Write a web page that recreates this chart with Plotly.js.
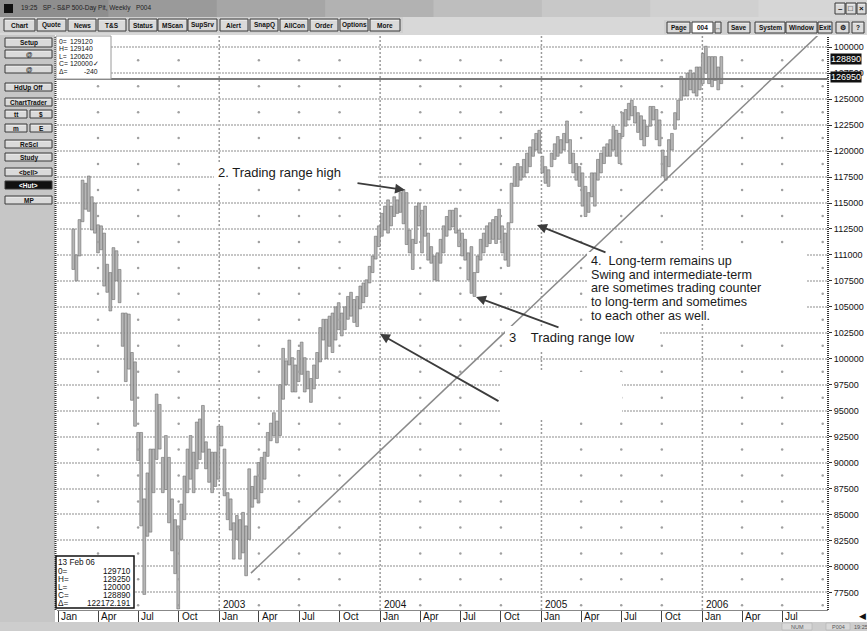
<!DOCTYPE html>
<html><head><meta charset="utf-8">
<script src="https://cdn.plot.ly/plotly-3.0.1.min.js"></script>
<style>html,body{margin:0;padding:0;background:#fff;overflow:hidden}#chart{width:867px;height:631px}</style>
</head><body><div id="chart"></div>
<script>
// ---------------- DATA ----------------
const weekDates = [
'2002-02-04','2002-02-11','2002-02-18','2002-02-25','2002-03-04','2002-03-11','2002-03-18','2002-03-25','2002-04-01','2002-04-08','2002-04-15','2002-04-22','2002-04-29','2002-05-06','2002-05-13','2002-05-20','2002-05-27','2002-06-03','2002-06-10','2002-06-17','2002-06-24','2002-07-01','2002-07-08','2002-07-15','2002-07-22','2002-07-29','2002-08-05','2002-08-12','2002-08-19','2002-08-26','2002-09-02','2002-09-09','2002-09-16','2002-09-23','2002-09-30','2002-10-07','2002-10-14','2002-10-21','2002-10-28','2002-11-04','2002-11-11','2002-11-18','2002-11-25','2002-12-02','2002-12-09','2002-12-16','2002-12-23','2002-12-30',
'2003-01-06','2003-01-13','2003-01-20','2003-01-27','2003-02-03','2003-02-10','2003-02-17','2003-02-24','2003-03-03','2003-03-10','2003-03-17','2003-03-24','2003-03-31','2003-04-07','2003-04-14','2003-04-21','2003-04-28','2003-05-05','2003-05-12','2003-05-19','2003-05-26','2003-06-02','2003-06-09','2003-06-16','2003-06-23','2003-06-30','2003-07-07','2003-07-14','2003-07-21','2003-07-28','2003-08-04','2003-08-11','2003-08-18','2003-08-25','2003-09-01','2003-09-08','2003-09-15','2003-09-22','2003-09-29','2003-10-06','2003-10-13','2003-10-20','2003-10-27','2003-11-03','2003-11-10','2003-11-17','2003-11-24','2003-12-01','2003-12-08','2003-12-15','2003-12-22','2003-12-29',
'2004-01-05','2004-01-12','2004-01-19','2004-01-26','2004-02-02','2004-02-09','2004-02-16','2004-02-23','2004-03-01','2004-03-08','2004-03-15','2004-03-22','2004-03-29','2004-04-05','2004-04-12','2004-04-19','2004-04-26','2004-05-03','2004-05-10','2004-05-17','2004-05-24','2004-05-31','2004-06-07','2004-06-14','2004-06-21','2004-06-28','2004-07-05','2004-07-12','2004-07-19','2004-07-26','2004-08-02','2004-08-09','2004-08-16','2004-08-23','2004-08-30','2004-09-06','2004-09-13','2004-09-20','2004-09-27','2004-10-04','2004-10-11','2004-10-18','2004-10-25','2004-11-01','2004-11-08','2004-11-15','2004-11-22','2004-11-29','2004-12-06','2004-12-13','2004-12-20','2004-12-27',
'2005-01-03','2005-01-10','2005-01-17','2005-01-24','2005-01-31','2005-02-07','2005-02-14','2005-02-21','2005-02-28','2005-03-07','2005-03-14','2005-03-21','2005-03-28','2005-04-04','2005-04-11','2005-04-18','2005-04-25','2005-05-02','2005-05-09','2005-05-16','2005-05-23','2005-05-30','2005-06-06','2005-06-13','2005-06-20','2005-06-27','2005-07-04','2005-07-11','2005-07-18','2005-07-25','2005-08-01','2005-08-08','2005-08-15','2005-08-22','2005-08-29','2005-09-05','2005-09-12','2005-09-19','2005-09-26','2005-10-03','2005-10-10','2005-10-17','2005-10-24','2005-10-31','2005-11-07','2005-11-14','2005-11-21','2005-11-28','2005-12-05','2005-12-12','2005-12-19','2005-12-26',
'2006-01-02','2006-01-09','2006-01-16','2006-01-23','2006-01-30','2006-02-06','2006-02-13'];

const weekHigh = [
112500,110000,113400,117200,116900,117600,115600,115000,112900,112800,112100,109100,108300,110700,110400,108600,104400,104400,104300,100600,99700,92900,92900,86500,89000,91300,91300,96600,95600,90500,92600,90500,86500,84500,83900,86000,88700,91300,92600,91000,93900,94200,95500,92000,91300,91000,91000,93500,
93500,91300,87100,86500,84200,84900,84500,85200,83900,89400,87700,88700,90000,90500,91000,92900,93800,94800,94000,97500,101000,99800,101800,100100,99400,100800,101600,100100,98800,98100,99400,100600,103000,103800,103800,104100,104400,105000,105400,104400,105000,106000,106400,105700,106000,107000,107300,107600,108900,109900,111800,112800,
114000,114700,115300,114700,115600,115300,116000,116300,116000,112400,111500,114700,115000,114300,114700,112100,110800,109900,110200,111500,112800,113700,114300,114300,114500,112400,112100,111500,110200,110800,108300,109900,111500,112100,112800,113100,113400,113700,114400,112800,112100,113100,116900,118500,118800,118500,119200,119800,120400,121100,121700,122000,
119500,118500,118200,119800,120700,121400,121100,121700,122900,121100,119800,118800,118500,117900,116600,116000,117900,117900,119200,119800,120400,120700,121100,122400,122000,121700,123700,124000,124600,124900,124300,123700,123400,123000,122400,124300,124300,124000,123000,120100,119500,121100,121700,123700,124900,127200,127000,127500,127800,127500,128100,128100,
129400,130100,129100,129100,129100,128100,129100];

const weekLow = [
108600,107500,109900,113200,114400,114200,112400,112100,110200,110500,107000,106400,104600,105700,107500,105400,101200,97800,99000,96000,93500,90200,83900,77300,82900,83300,87100,90300,91300,87100,87400,84200,81500,79300,75900,82600,84500,87100,88400,87100,89400,90300,91000,89400,88100,87100,87700,88400,
91600,86800,84500,83500,80700,82600,80700,81300,79100,82600,85700,86500,86100,87100,88400,90600,92100,92600,91900,92600,96100,97500,99400,96800,96800,97800,98500,96800,97100,95800,97100,98100,99700,101800,100000,101200,100600,101800,102800,102200,102800,103800,104100,103500,103100,104800,105400,106000,107300,108300,109600,110800,
111800,112400,112100,112800,113700,114000,114100,113000,111000,110200,108600,111100,112800,110200,111800,109500,109200,107600,107500,109200,110200,111800,112400,112700,112100,110800,109900,109500,107600,106300,106000,108300,109500,110200,110800,111100,111500,111100,111500,110200,109500,108900,113100,116600,116600,117200,117500,117900,118500,119500,120100,119800,
117900,116900,116600,118500,119200,119500,119800,120100,120800,118800,117900,117200,116600,114700,113700,114100,115600,114700,117200,117900,118800,119500,119500,120100,119500,118800,121400,122400,123000,123400,122700,121800,121100,120500,121400,122400,123000,121100,120500,117600,117200,118500,120100,122100,123000,124900,125300,125300,125900,125600,125300,125900,
126500,127500,126500,126200,126800,125900,126500];

const yTickVals = [130000,127500,125000,122500,120000,117500,115000,112500,110000,107500,105000,102500,100000,97500,95000,92500,90000,87500,85000,82500,80000,77500];
const yTickText = ['100000','127500','125000','122500','120000','117500','115000','112500','111000','107500','105000','102500','100000','97500','95000','92500','90000','87500','85000','82500','80000','77500'];

const quarterDates = ['2002-01-01','2002-04-01','2002-07-01','2002-10-01','2003-01-01','2003-04-01','2003-07-01','2003-10-01','2004-01-01','2004-04-01','2004-07-01','2004-10-01','2005-01-01','2005-04-01','2005-07-01','2005-10-01','2006-01-01','2006-04-01','2006-07-01'];
const monthLabels = ['Jan','Apr','Jul','Oct','Jan','Apr','Jul','Oct','Jan','Apr','Jul','Oct','Jan','Apr','Jul','Oct','Jan','Apr','Jul'];
const yearDates = ['2003-01-01','2004-01-01','2005-01-01','2006-01-01'];
const yearLabels = ['2003','2004','2005','2006'];
const dotDates = ['2002-04-01','2002-07-01','2002-10-01','2003-04-01','2003-07-01','2003-10-01','2004-04-01','2004-07-01','2004-10-01','2005-04-01','2005-07-01','2005-10-01','2006-04-01','2006-07-01','2006-10-01'];
const dotLevels = [128750,126250,123750,121250,118750,116250,113750,111250,108750,106250,103750,101250,98750,96250,93750,91250,88750,86250,83750,81250,78750,76250];

const trendDates = ['2003-03-14','2006-10-31'];
const trendValues = [79350,132800];
const refLevel = 126950;
const markLabels = ['128890','126950'];

const topBoxLabels = ['0=','H=','L=','C=','\u0394='];
const topBoxValues = ['129120','129140','120620','120000\u2713','-240'];
const botBoxTitle = '13 Feb 06';
const botBoxLabels = ['0=','H=','L=','C=','\u0394='];
const botBoxValues = ['129710','129250','120000','128890','122172.191'];

const toolbarLeft = [[4,35,'Chart'],[37,66,'Quote'],[68,96,'News'],[98,126,'T&S'],[129,157,'Status'],[158,187,'MScan'],[188,217,'SupSrv'],[220,248,'Alert'],[250,278,'SnapQ'],[280,308,'AllCon'],[310,338,'Order'],[340,368,'Options'],[370,400,'More']];
const toolbarRight = [[667,690,'Page'],[728,750,'Save'],[755,785,'System'],[786,817,'Window'],[818,832,'Exit'],[836,849,'\u2699'],[852,864,'?']];
const sideButtons = [[38,47,'Setup'],[50,58,'@'],[65,73,'@'],[83,91,'HdUp Off'],[98,106,'ChartTrader'],[140,148,'ReScl'],[153,161,'Study'],[168,176,'<bell>'],[181,189,'<Hut>'],[196,204,'MP']];

// ---------------- HELPERS ----------------
const L=57, R=828, T=36, B=610, W=R-L, H=B-T;
const px = x => (x-L)/W;
const py = y => (B-y)/H;
const shapes=[], ann=[];
const UIF = 'Liberation Sans, Arial, sans-serif';
function rect(x0,y0,x1,y1,fill,line,lw,layer){
  shapes.push({type:'rect',xref:'paper',yref:'paper',x0:px(x0),x1:px(x1),y0:py(y1),y1:py(y0),
    fillcolor:fill,line:{color:line||fill,width:lw===undefined?0:lw},layer:layer||'above'});
}
function txt(x,y,s,o){
  o=o||{};
  ann.push({xref:'paper',yref:'paper',x:px(x),y:py(y),text:s,showarrow:false,
    xanchor:o.xa||'left',yanchor:'middle',borderpad:0,
    bgcolor:o.bg||'rgba(0,0,0,0)',
    font:{family:o.ff||UIF,size:o.fs||9,color:o.c||'#111',weight:o.w||'normal'}});
}
function btn(x0,y0,x1,y1,label,dark){
  rect(x0,y0,x1,y1,dark?'#111':'#dadada','#3a3a3a',1);
  rect(x0+1,y0+1,x1-1,y0+1.6,dark?'#111':'#f4f4f4');
  if(label) txt((x0+x1)/2,(y0+y1)/2+0.5,label,{xa:'center',fs:6.5,w:'bold',c:dark?'#fff':'#111'});
}
function arrow(hx,hy,tx,ty){
  ann.push({xref:'paper',yref:'paper',x:px(hx),y:py(hy),ax:tx-hx,ay:ty-hy,text:'',showarrow:true,
    arrowhead:2,arrowsize:1.1,arrowwidth:1.8,arrowcolor:'#3c3c3c'});
}

// ---- window chrome ----
const grad=['#8e8e8e','#9a9a9a','#a6a6a6','#b2b2b2','#bebebe','#c8c8c8','#d0d0d0','#d6d6d6'];
for(let k=0;k<grad.length;k++) rect(k*867/grad.length,0,(k+1)*867/grad.length+1,17,grad[k]);
rect(4,4,13,13,'#111');
txt(20,8.5,'19:25   SP - S&P 500-Day Pit, Weekly   P004',{fs:6.5,c:'#222'});
[[835,845,'\u2013'],[846,856,'\u25a1'],[857,866,'\u00d7']].forEach(b=>{btn(b[0],3,b[1],14,'');txt((b[0]+b[1])/2,8.5,b[2],{xa:'center',fs:8,w:'bold'});});
rect(0,17,867,35,'#d8d8d8');
rect(0,17,403,33,'#cfcfcf');
toolbarLeft.forEach(b=>btn(b[0],19,b[1],31,b[2]));
rect(664,20,866,34,'#cfcfcf');
toolbarRight.forEach(b=>btn(b[0],22,b[1],33,b[2]));
rect(692,22,713,33,'#ffffff','#3a3a3a',1); txt(702.5,28,'004',{xa:'center',fs:6.5,w:'bold'});
btn(715,22,721,33,''); txt(718,28,'\u2194',{xa:'center',fs:6});
// left panel
rect(0,35,55,622,'#c6c6c6');
sideButtons.forEach(b=>btn(5,b[0],52,b[1],b[2],b[2]==='<Hut>'));
btn(5,110,27,118,'tt'); btn(30,110,52,118,'$');
btn(5,124,27,132,'m'); btn(30,124,52,132,'E');
// status bar
rect(0,622,867,631,'#cdcdcd');
rect(782,623,812,630,'#d9d9d9','#aaa',0.5); txt(797,626.5,'NUM',{xa:'center',fs:5.5,c:'#555'});
rect(826,623,850,630,'#d9d9d9','#aaa',0.5); txt(838,626.5,'P004',{xa:'center',fs:5.5,c:'#555'});
txt(853,626.5,'19:25',{fs:5.5,c:'#555'});
txt(862,616,'\u25c0',{xa:'center',fs:9,c:'#111'});
// left ruler + right axis ruler
shapes.push({type:'line',xref:'paper',yref:'paper',x0:px(55.5),x1:px(55.5),y0:0,y1:1,line:{color:'#333',width:2,dash:'1px,1px'},layer:'above'});
shapes.push({type:'line',xref:'paper',yref:'paper',x0:1,x1:1,y0:0,y1:1,line:{color:'#333',width:2,dash:'1px,1px'},layer:'above'});
// year dotted lines
yearDates.forEach(d=>shapes.push({type:'line',xref:'x',yref:'paper',x0:d,x1:d,y0:0,y1:1,line:{color:'#9a9a9a',width:1.5,dash:'2px,2px'},layer:'below'}));
// reference horizontal line
shapes.push({type:'line',xref:'paper',yref:'y',x0:0,x1:1,y0:refLevel,y1:refLevel,line:{color:'#7a7a7a',width:2},layer:'above'});
// white label backgrounds
rect(214,162,377,182,'#ffffff');
rect(505,326,660,350,'#ffffff');
rect(587,252,806,322,'#ffffff');
rect(500,372,622,420,'#ffffff');
// info boxes
rect(56,36,111,79,'#ffffff','#9a9a9a',1);
topBoxLabels.forEach((s,k)=>{txt(57.5,41.5+k*7.4,s,{fs:6.8});});
topBoxValues.forEach((s,k)=>{txt(k===4?99:68.5,41.5+k*7.4,s,{fs:6.8,xa:k===4?'right':'left'});});
rect(56,556,134,608,'#ffffff','#111',1.5);
txt(57,562.5,botBoxTitle,{fs:8.2});
botBoxLabels.forEach((s,k)=>txt(57,571+k*8.2,s,{fs:8.2}));
botBoxValues.forEach((s,k)=>txt(132,571+k*8.2,s,{fs:8.2,xa:'right'}));
// highlighted axis boxes
txt(830,59,markLabels[0],{fs:9,c:'#fff',bg:'#111'});
txt(830,77,markLabels[1],{fs:9,c:'#fff',bg:'#111'});
// commentary text
const CF='Liberation Sans, Arial, sans-serif';
txt(217,172,'2. Trading range high',{fs:13,ff:CF,c:'#1a1a1a'});
txt(508,337,'3\u00a0\u00a0\u00a0\u00a0Trading range low',{fs:13,ff:CF,c:'#1a1a1a'});
['4.\u00a0\u00a0Long-term remains up','Swing and intermediate-term','are sometimes trading counter','to long-term and sometimes','to each other as well.'].forEach((s,k)=>txt(590,261+k*13.7,s,{fs:12.6,ff:CF,c:'#1a1a1a'}));
arrow(405,190,356,183);
arrow(476,297,560,328);
arrow(537,225,607,253);
arrow(380,334,500,402);
// month & year labels
quarterDates.forEach((d,k)=>ann.push({xref:'x',yref:'paper',x:d,y:py(616),text:monthLabels[k],showarrow:false,xanchor:'left',yanchor:'middle',xshift:1,font:{family:UIF,size:10,color:'#111'}}));
yearDates.forEach((d,k)=>ann.push({xref:'x',yref:'paper',x:d,y:py(604),text:yearLabels[k],showarrow:false,xanchor:'left',yanchor:'middle',xshift:2,font:{family:UIF,size:10,color:'#111'}}));

// ---------------- TRACES ----------------
const dotX=[],dotY=[];
dotDates.forEach(d=>dotLevels.forEach(v=>{dotX.push(d);dotY.push(v);}));
const traces=[
 {type:'scatter',mode:'markers',x:dotX,y:dotY,marker:{size:2.5,color:'#a0a0a0'},hoverinfo:'skip'},
 {type:'bar',x:weekDates,base:weekLow,y:weekHigh.map((h,k)=>h-weekLow[k]),width:6.3*86400000,
  marker:{color:'#b6b6b6',line:{color:'#6e6e6e',width:0.6}},hoverinfo:'skip'},
 {type:'scatter',mode:'lines',x:trendDates,y:trendValues,line:{color:'#8a8a8a',width:1.5},hoverinfo:'skip'}
];
const layout={
 width:867,height:631,margin:{l:L,r:867-R,t:T,b:631-B,pad:0},
 paper_bgcolor:'#ffffff',plot_bgcolor:'#ffffff',showlegend:false,
 xaxis:{type:'date',range:['2001-12-29','2006-10-13'],tickvals:quarterDates,ticks:'outside',ticklen:12,tickcolor:'#444',tickwidth:1,
   showticklabels:false,showgrid:false,zeroline:false,showline:true,linecolor:'#888',linewidth:1},
 yaxis:{side:'right',range:[75800,131085],tickvals:yTickVals,ticktext:yTickText,ticks:'outside',ticklen:3,tickcolor:'#333',
   tickfont:{family:UIF,size:9,color:'#111'},showgrid:true,gridcolor:'#c6c6c6',gridwidth:2,griddash:'2px,1px',zeroline:false,showline:false},
 shapes:shapes,annotations:ann,bargap:0
};
Plotly.newPlot('chart',traces,layout,{staticPlot:true,displayModeBar:false});
</script></body></html>
